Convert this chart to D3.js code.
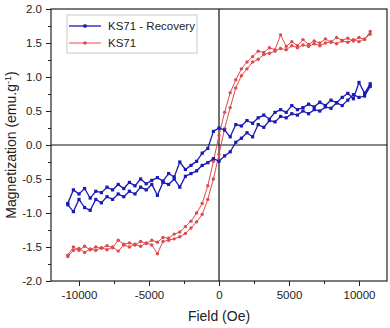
<!DOCTYPE html>
<html><head><meta charset="utf-8">
<script src="https://cdn.jsdelivr.net/npm/d3@7"></script>
<style>
body{margin:0;background:#fff;}
text{font-family:"Liberation Sans",Arial,sans-serif;fill:#222;}
</style></head>
<body><svg id="c" width="390" height="328"></svg>
<script>
// Field grid (Oe), shared by all branches
const field = [-10800,-10400,-10000,-9600,-9200,-8800,-8400,-8000,-7600,-7200,-6800,-6400,-6000,-5600,-5200,-4800,-4400,-4000,-3600,-3200,-2800,-2400,-2000,-1600,-1200,-800,-400,0,400,800,1200,1600,2000,2400,2800,3200,3600,4000,4400,4800,5200,5600,6000,6400,6800,7200,7600,8000,8400,8800,9200,9600,10000,10400,10800];
// KS71 (red): ascending and descending branches, values at each field in grid order
const ks71Up = [-1.64,-1.55,-1.52,-1.58,-1.53,-1.55,-1.51,-1.54,-1.50,-1.56,-1.47,-1.50,-1.46,-1.49,-1.44,-1.47,-1.60,-1.42,-1.40,-1.38,-1.35,-1.30,-1.22,-1.13,-1.02,-0.80,-0.50,-0.14,0.24,0.55,0.84,1.02,1.12,1.22,1.26,1.33,1.35,1.38,1.42,1.40,1.46,1.43,1.47,1.45,1.49,1.46,1.50,1.52,1.49,1.53,1.51,1.55,1.52,1.56,1.63];
const ks71Down = [-1.62,-1.50,-1.55,-1.49,-1.54,-1.50,-1.52,-1.48,-1.51,-1.40,-1.46,-1.44,-1.47,-1.42,-1.45,-1.40,-1.43,-1.36,-1.37,-1.31,-1.28,-1.20,-1.12,-1.00,-0.86,-0.60,-0.24,0.14,0.48,0.77,0.96,1.12,1.22,1.30,1.38,1.36,1.43,1.40,1.62,1.45,1.52,1.46,1.55,1.48,1.53,1.50,1.56,1.51,1.58,1.54,1.57,1.53,1.58,1.55,1.67];
// KS71 - Recovery (blue)
const recUp = [-0.88,-0.98,-0.80,-0.92,-0.96,-0.80,-0.85,-0.76,-0.80,-0.72,-0.76,-0.68,-0.72,-0.62,-0.66,-0.58,-0.74,-0.55,-0.58,-0.50,-0.62,-0.46,-0.42,-0.38,-0.30,-0.26,-0.20,-0.24,-0.16,-0.10,0.04,0.10,0.18,0.12,0.30,0.26,0.36,0.34,0.42,0.40,0.46,0.44,0.50,0.46,0.52,0.50,0.56,0.54,0.62,0.58,0.66,0.74,0.70,0.72,0.86];
const recDown = [-0.86,-0.66,-0.72,-0.64,-0.78,-0.68,-0.70,-0.62,-0.66,-0.58,-0.64,-0.55,-0.60,-0.50,-0.57,-0.52,-0.48,-0.53,-0.42,-0.47,-0.25,-0.36,-0.30,-0.24,-0.12,-0.05,0.20,0.25,0.22,0.12,0.30,0.28,0.36,0.32,0.40,0.44,0.38,0.48,0.52,0.48,0.58,0.52,0.55,0.60,0.56,0.63,0.58,0.66,0.62,0.70,0.76,0.68,0.92,0.76,0.90];

const xTicks = [-10000,-5000,0,5000,10000];
const yTicks = [-2.0,-1.5,-1.0,-0.5,0.0,0.5,1.0,1.5,2.0];
const seriesNames = ["KS71 - Recovery","KS71"];
const blue = "#1a1ab4", red = "#e04a4c";

const svg = d3.select("#c");
const L=51,R=387,T=9,B=281;
const x = d3.scaleLinear().domain([-12000,12000]).range([L,R]);
const y = d3.scaleLinear().domain([-2,2]).range([B,T]);

// loops: descending (from +H to -H) then ascending
function loop(down, up){
  const d = field.map((h,i)=>({h, m:down[i]})).reverse();
  const u = field.map((h,i)=>({h, m:up[i]}));
  return d.concat(u);
}
const redData = loop(ks71Down, ks71Up);
const blueData = loop(recDown, recUp);

// axes
const xMinor = d3.range(-12500,12501,2500).filter(v=>v>=-12000&&v<=12000);
const yMinor = d3.range(-2,2.001,0.25);
const gx = svg.append("g").attr("transform",`translate(0,${B})`)
  .call(d3.axisBottom(x).tickValues(xTicks).tickFormat(d3.format("d")).tickSize(5).tickPadding(5));
const gxm = svg.append("g").attr("transform",`translate(0,${B})`)
  .call(d3.axisBottom(x).tickValues(xMinor).tickFormat("").tickSize(3));
const gy = svg.append("g").attr("transform",`translate(${L},0)`)
  .call(d3.axisLeft(y).tickValues(yTicks).tickFormat(d3.format(".1f")).tickSize(5).tickPadding(4));
const gym = svg.append("g").attr("transform",`translate(${L},0)`)
  .call(d3.axisLeft(y).tickValues(yMinor).tickFormat("").tickSize(3));
[gx,gxm,gy,gym].forEach(g=>{
  g.select(".domain").remove();
  g.selectAll("line").attr("stroke","#222");
  g.selectAll("text").style("font-size","11.5px").attr("fill","#222");
});
gy.selectAll("text").text(d=>d3.format(".1f")(d).replace("−","-"));
gx.selectAll("text").text(d=>String(d));

// frame
svg.append("rect").attr("x",L).attr("y",T).attr("width",R-L).attr("height",B-T)
  .attr("fill","none").attr("stroke","#222").attr("stroke-width",1.2);
// zero lines
svg.append("line").attr("x1",L).attr("x2",R).attr("y1",y(0)).attr("y2",y(0)).attr("stroke","#111").attr("stroke-width",1.2);
svg.append("line").attr("x1",x(0)).attr("x2",x(0)).attr("y1",T).attr("y2",B).attr("stroke","#111").attr("stroke-width",1.2);

const line = d3.line().x(d=>x(d.h)).y(d=>y(d.m));
// red series
svg.append("path").datum(redData).attr("d",line).attr("fill","none").attr("stroke",red).attr("stroke-width",1);
svg.append("g").selectAll("circle").data(redData).join("circle")
  .attr("cx",d=>x(d.h)).attr("cy",d=>y(d.m)).attr("r",1.7).attr("fill",red);
// blue series
svg.append("path").datum(blueData).attr("d",line).attr("fill","none").attr("stroke",blue).attr("stroke-width",1.3);
svg.append("g").selectAll("rect").data(blueData).join("rect")
  .attr("x",d=>x(d.h)-1.6).attr("y",d=>y(d.m)-1.6).attr("width",3.2).attr("height",3.2).attr("fill",blue);

// legend
const lg = svg.append("g");
lg.append("rect").attr("x",67).attr("y",15).attr("width",130).attr("height",38)
  .attr("fill","#fff").attr("stroke","#c8c8c8").attr("stroke-width",1);
const cols=[blue,red];
seriesNames.forEach((n,i)=>{
  const yy = 26 + i*17;
  lg.append("line").attr("x1",69).attr("x2",101).attr("y1",yy).attr("y2",yy).attr("stroke",cols[i]).attr("stroke-width",i?1:1.3);
  if(i===0) lg.append("rect").attr("x",83.4).attr("y",yy-1.6).attr("width",3.2).attr("height",3.2).attr("fill",cols[i]);
  else lg.append("circle").attr("cx",85).attr("cy",yy).attr("r",1.8).attr("fill",cols[i]);
  lg.append("text").attr("x",108).attr("y",yy+4).style("font-size","11.5px").text(n);
});

// axis titles
svg.append("text").attr("x",(L+R)/2).attr("y",321).attr("text-anchor","middle").style("font-size","14px").text("Field (Oe)");
const yl = svg.append("text").attr("transform",`translate(16,${(T+B)/2}) rotate(-90)`).attr("text-anchor","middle").style("font-size","14px");
yl.append("tspan").text("Magnetization (emu.g");
yl.append("tspan").attr("dy",-5).style("font-size","9px").text("-1");
yl.append("tspan").attr("dy",5).text(")");
</script></body></html>
